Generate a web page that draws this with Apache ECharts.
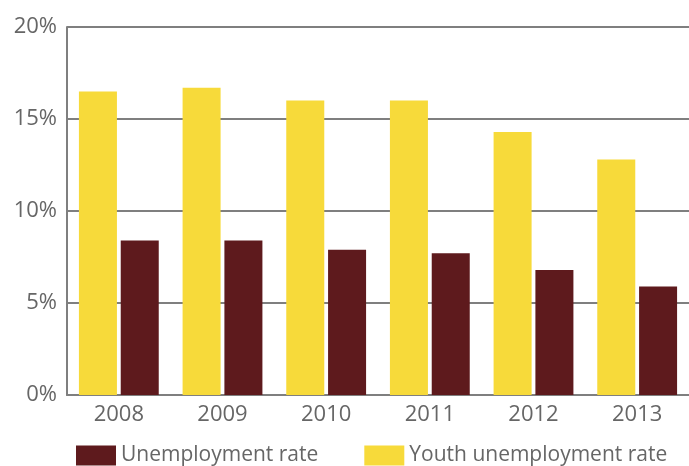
<!DOCTYPE html>
<html>
<head>
<meta charset="utf-8">
<script src="https://cdn.jsdelivr.net/npm/echarts@6/dist/echarts.min.js"></script>
<style>
  html, body { margin: 0; padding: 0; background: #fff; }
  #chart { width: 689px; height: 466px; }
</style>
</head>
<body>
<div id="chart"></div>
<script>
const years = ['2008', '2009', '2010', '2011', '2012', '2013']
const youthRate = [16.5, 16.7, 16.0, 16.0, 14.3, 12.8]
const unemploymentRate = [8.4, 8.4, 7.9, 7.7, 6.8, 5.9]

const chart = echarts.init(document.getElementById('chart'))
const textColor = '#666'
const lineColor = '#7f7f7f'

const option = {
  animation: false,
  textStyle: { fontFamily: 'Open Sans' },
  grid: { left: 67, right: 0, top: 27, bottom: 71 },
  legend: {
    left: 71,
    bottom: -5,
    itemWidth: 40,
    itemHeight: 20,
    itemGap: 46,
    icon: 'rect',
    data: ['Unemployment rate', 'Youth unemployment rate'],
    textStyle: { color: textColor, fontSize: 21, fontFamily: 'Open Sans' },
  },
  xAxis: {
    type: 'category',
    data: years,
    axisLine: { lineStyle: { color: lineColor, width: 2 } },
    axisTick: { inside: true, length: 5, lineStyle: { color: lineColor, width: 1.5 } },
    axisLabel: { color: textColor, fontSize: 22, margin: 9 },
  },
  yAxis: {
    type: 'value',
    min: 0,
    max: 20,
    interval: 5,
    axisLine: { show: true, lineStyle: { color: lineColor, width: 2 } },
    axisTick: { show: false },
    splitLine: { lineStyle: { color: lineColor, width: 2 } },
    axisLabel: { color: textColor, fontSize: 22, margin: 10, formatter: '{value}%' },
  },
  series: [
    {
      name: 'Youth unemployment rate',
      type: 'bar',
      data: youthRate,
      itemStyle: { color: '#f7da3a' },
      barGap: '10%',
      barCategoryGap: '23%',
    },
    {
      name: 'Unemployment rate',
      type: 'bar',
      data: unemploymentRate,
      itemStyle: { color: '#5e1a1d' },
    },
  ],
}
chart.setOption(option)
</script>
</body>
</html>
